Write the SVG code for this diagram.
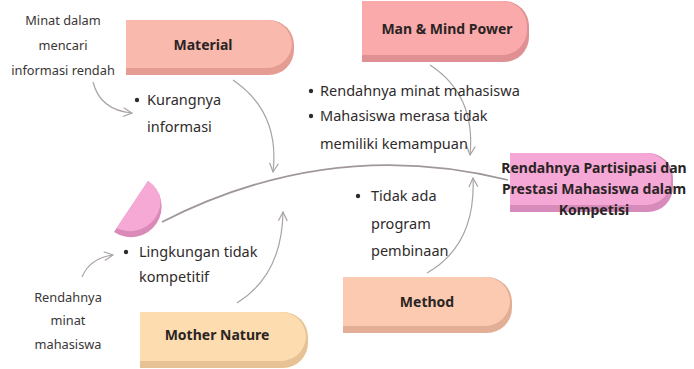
<svg xmlns="http://www.w3.org/2000/svg" width="694" height="369" viewBox="0 0 694 369">
<defs>
<style>
.t{font-family:"Noto Sans","Open Sans",sans-serif;font-size:14.5px;fill:#2f2b2b}
.n{font-family:"Noto Sans","Open Sans",sans-serif;font-size:12.8px;fill:#3a3636;text-anchor:middle}
.b{font-family:"Noto Sans","Open Sans",sans-serif;font-size:14px;font-weight:bold;fill:#2a2424;text-anchor:middle}
.c{fill:none;stroke:#aaa3a3;stroke-width:1.2;marker-end:url(#ah)}
.dot{fill:#2f2b2b}
</style>
<marker id="ah" viewBox="0 0 10 10" refX="9" refY="5" markerWidth="11" markerHeight="11" markerUnits="userSpaceOnUse" orient="auto">
<path d="M1,1 L9,5 L1,9" fill="none" stroke="#aaa3a3" stroke-width="1.1"/>
</marker>
<clipPath id="hc"><path d="M148,181 A30.5 30.5 0 0 1 114,232 Z"/></clipPath>
</defs>
<rect width="694" height="369" fill="#ffffff"/>

<g id="connectors">
<path d="M162,222 Q330,136 508,180" fill="none" stroke="#a0979a" stroke-width="1.8"/>
<path class="c" d="M233,80 Q280,112 273,172"/>
<path class="c" d="M93,82 Q100,110 132,113"/>
<path class="c" d="M430,65 Q476,95 470,155"/>
<path class="c" d="M427,273 Q476,245 473,178"/>
<path class="c" d="M237,303 Q282,275 283,212"/>
<path class="c" d="M82,277 Q90,258 113,255"/>
</g>

<g id="tail">
<path d="M148,181 A30.5 30.5 0 0 1 114,232 Z" fill="#d98ab8"/>
<g clip-path="url(#hc)"><path d="M147,175 A30.5 30.5 0 0 1 113,226 Z" fill="#f6a9d4"/></g>
</g>

<g id="material">
<path d="M126,20 H269 A25 25 0 0 1 294,45 V50 A25 25 0 0 1 269,75 H126 Z" fill="#e59c92"/>
<path d="M126,20 H267 A25 25 0 0 1 292,45 V43 A25 25 0 0 1 267,68 H126 Z" fill="#f9b9ad"/>
<text class="b" x="203" y="50">Material</text>
</g>

<g id="man-mind">
<path d="M362,1 H504 A25 25 0 0 1 529,26 V37 A25 25 0 0 1 504,62 H362 Z" fill="#df9092"/>
<path d="M362,1 H502 A25 25 0 0 1 527,26 V30 A25 25 0 0 1 502,55 H362 Z" fill="#fbaaab"/>
<text class="b" x="447" y="34">Man &amp; Mind Power</text>
</g>

<g id="method">
<path d="M343,277 H487 A25 25 0 0 1 512,302 V308 A25 25 0 0 1 487,333 H343 Z" fill="#e3ae96"/>
<path d="M343,277 H485 A25 25 0 0 1 510,302 V301 A25 25 0 0 1 485,326 H343 Z" fill="#fccab0"/>
<text class="b" x="427" y="307">Method</text>
</g>

<g id="mother-nature">
<path d="M140,312 H283 A25 25 0 0 1 308,337 V343 A25 25 0 0 1 283,368 H140 Z" fill="#e6c295"/>
<path d="M140,312 H281 A25 25 0 0 1 306,337 V336 A25 25 0 0 1 281,361 H140 Z" fill="#fddcaf"/>
<text class="b" x="217" y="340">Mother Nature</text>
</g>

<g id="result">
<path d="M510,153 H648 A25 25 0 0 1 673,178 V187 A25 25 0 0 1 648,212 H510 Z" fill="#d68bbb"/>
<path d="M510,153 H646 A25 25 0 0 1 671,178 V180 A25 25 0 0 1 646,205 H510 Z" fill="#f5a7d6"/>
<text class="b" x="594" y="173">Rendahnya Partisipasi dan</text>
<text class="b" x="594" y="194">Prestasi Mahasiswa dalam</text>
<text class="b" x="594" y="215">Kompetisi</text>
</g>

<g id="note-material">
<text class="n" x="63" y="25">Minat dalam</text>
<text class="n" x="63" y="50">mencari</text>
<text class="n" x="63" y="75">informasi rendah</text>
</g>

<g id="note-mother">
<text class="n" x="68" y="302">Rendahnya</text>
<text class="n" x="68" y="325">minat</text>
<text class="n" x="68" y="349">mahasiswa</text>
</g>

<g id="bullets-material">
<circle class="dot" cx="137" cy="100" r="2.2"/>
<text class="t" x="147" y="105">Kurangnya</text>
<text class="t" x="147" y="132">informasi</text>
</g>

<g id="bullets-man">
<circle class="dot" cx="311" cy="91" r="2.2"/>
<text class="t" x="320" y="96">Rendahnya minat mahasiswa</text>
<circle class="dot" cx="311" cy="116" r="2.2"/>
<text class="t" x="320" y="121">Mahasiswa merasa tidak</text>
<text class="t" x="320" y="149">memiliki kemampuan</text>
</g>

<g id="bullets-mother">
<circle class="dot" cx="126" cy="252" r="2.2"/>
<text class="t" x="139" y="257">Lingkungan tidak</text>
<text class="t" x="139" y="282">kompetitif</text>
</g>

<g id="bullets-method">
<circle class="dot" cx="358" cy="196" r="2.2"/>
<text class="t" x="371" y="201">Tidak ada</text>
<text class="t" x="371" y="229">program</text>
<text class="t" x="371" y="256">pembinaan</text>
</g>
</svg>
